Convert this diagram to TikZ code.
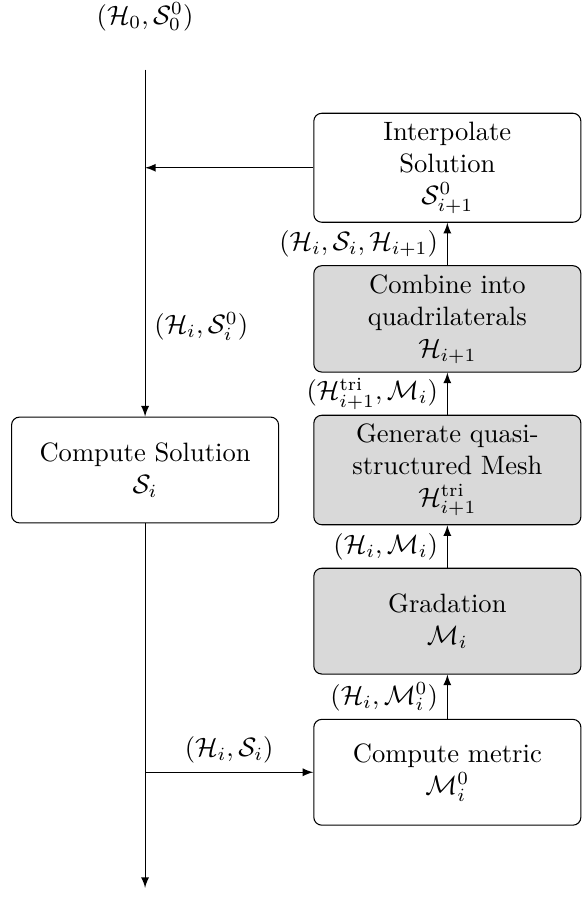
\documentclass[tikz,border=0pt]{standalone}
\usepackage{amsmath}
\usepackage{amssymb}
\usetikzlibrary{positioning}

\begin{document}
\begin{tikzpicture}[
    stepbox/.style={draw, rounded corners=3pt, text width=3.3cm,
        align=center, minimum height=1.4cm},
    meshbox/.style={stepbox, fill=black!15}]
    \useasboundingbox (-1.92,-5.73) rectangle (5.80,6.22);

    \node (init) at (0,6) {$(\mathcal{H}_0,\mathcal{S}_0^0)$};
    \coordinate (start) at (0,5.3);
    \coordinate (join) at (0,4);
    \coordinate (split) at (0,-4);
    \coordinate (finish) at (0,-5.53);

    \node[stepbox] (solve) at (0,0) {Compute Solution\\$\mathcal{S}_i$};
    \node[stepbox] (interp) at (4,4) {Interpolate\\Solution\\$\mathcal{S}_{i+1}^0$};
    \node[meshbox] (combine) at (4,2) {Combine into quadrilaterals\\$\mathcal{H}_{i+1}$};
    \node[meshbox] (generate) at (4,0) {Generate quasi-structured Mesh\\$\mathcal{H}_{i+1}^{\text{tri}}$};
    \node[meshbox] (grad) at (4,-2) {Gradation\\$\mathcal{M}_i$};
    \node[stepbox] (metric) at (4,-4) {Compute metric\\$\mathcal{M}_i^0$};

    \draw[-latex] (start) -- node[pos=0.74,right]{$(\mathcal{H}_i,\mathcal{S}_i^0)$} (solve);
    \draw[-latex] (solve) -- (finish);
    \draw[-latex] (interp) -- (join);
    \draw[-latex] (split) -- node[above]{$(\mathcal{H}_i,\mathcal{S}_i)$} (metric);
    \draw[-latex] (metric) -- node[left]{$(\mathcal{H}_i,\mathcal{M}_i^0)$} (grad);
    \draw[-latex] (grad) -- node[left]{$(\mathcal{H}_i,\mathcal{M}_i)$} (generate);
    \draw[-latex] (generate) -- node[left]{$(\mathcal{H}_{i+1}^{\text{tri}},\mathcal{M}_i)$} (combine);
    \draw[-latex] (combine) -- node[left]{$(\mathcal{H}_i,\mathcal{S}_i,\mathcal{H}_{i+1})$} (interp);
\end{tikzpicture}
\end{document}
